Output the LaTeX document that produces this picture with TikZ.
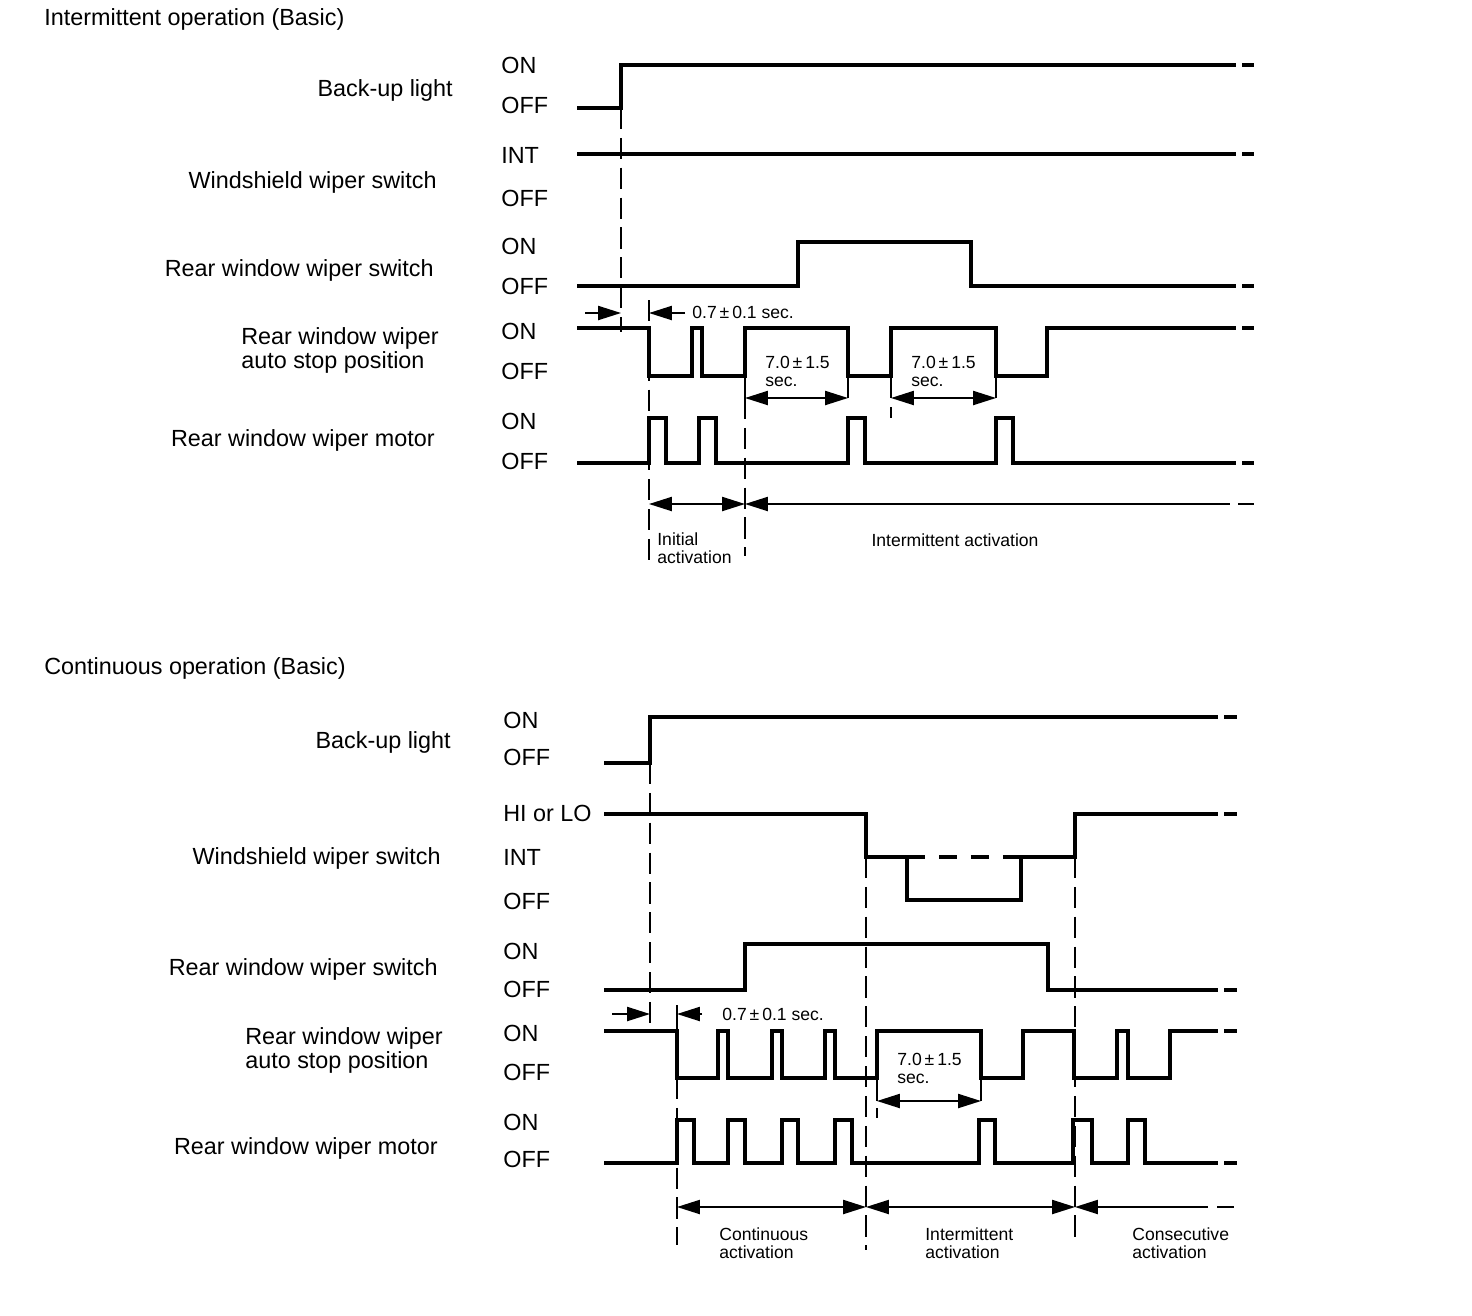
\documentclass[tikz,border=0pt]{standalone}
\usepackage{fontspec}
\setmainfont{Liberation Sans}
\usetikzlibrary{arrows.meta}

\begin{document}
\begin{tikzpicture}[x=0.02cm, y=-0.02cm,
    sig/.style={line width=1.9pt, line join=miter},
    guide/.style={line width=0.9pt, dash pattern=on 12pt off 5pt},
    dim/.style={line width=1pt, >={Triangle[length=13pt,width=8pt]}},
    lbl/.style={font=\fontsize{13.3}{13.6}\selectfont, inner sep=0pt},
    small/.style={font=\fontsize{10}{10.2}\selectfont, inner sep=0pt, align=left}]

\useasboundingbox (0,0) rectangle (1472,1316);

% ---- Intermittent operation ----
\node[lbl, anchor=base west] (intTitle) at (44,25) {Intermittent operation (Basic)};
\node[lbl, anchor=base east] (intBack) at (453,96) {Back-up light};
\node[lbl, anchor=base east] (intWs) at (437,188) {Windshield wiper switch};
\node[lbl, anchor=base east] (intRs) at (434,276) {Rear window wiper switch};
\node[lbl, anchor=north west, align=left] (intStop) at (241,327) {Rear window wiper\\auto stop position};
\node[lbl, anchor=base east] (intMot) at (435,446) {Rear window wiper motor};
\foreach \y/\s in {73/ON,113/OFF,163/INT,206/OFF,254/ON,294/OFF,339/ON,379/OFF,429/ON,469/OFF}
    \node[lbl, anchor=base west] (intState\y) at (501,\y) {\s};

% guide lines
\draw[guide] (621,108) -- (621,332);
\draw[guide] (649,300) -- (649,565);
\draw[guide] (745,398) -- (745,556);
\foreach \x in {745,848,891,996} \draw[dim] (\x,376) -- (\x,398);
\draw[dim] (891,407) -- (891,418);

% waveforms
\draw[sig] (577,108) -- (621,108) -- (621,65) -- (1236,65);
\draw[sig] (577,154) -- (1236,154);
\draw[sig] (577,286) -- (798,286) -- (798,242) -- (971,242) -- (971,286) -- (1236,286);
\draw[sig] (577,328) -- (649,328) -- (649,376) -- (692,376) -- (692,328) -- (702,328) -- (702,376)
    -- (745,376) -- (745,328) -- (848,328) -- (848,376) -- (891,376) -- (891,328) -- (996,328)
    -- (996,376) -- (1047,376) -- (1047,328) -- (1236,328);
\draw[sig] (577,463) -- (649,463) -- (649,418) -- (666,418) -- (666,463) -- (699,463) -- (699,418)
    -- (716,418) -- (716,463) -- (848,463) -- (848,418) -- (865,418) -- (865,463) -- (996,463)
    -- (996,418) -- (1013,418) -- (1013,463) -- (1236,463);
\foreach \y in {65,154,286,328,463} \draw[sig] (1242,\y) -- (1254,\y);

% timings
\draw[dim,->] (585,313) -- (621,313);
\draw[dim,->] (685,313) -- (649,313);
\node[small, anchor=base west] (intTol) at (692,318) {0.7\,±\,0.1 sec.};
\draw[dim,<->] (745,398) -- (848,398);
\node[small, anchor=north west] (intGapA) at (765,356) {7.0\,±\,1.5\\sec.};
\draw[dim,<->] (891,398) -- (996,398);
\node[small, anchor=north west] (intGapB) at (911,356) {7.0\,±\,1.5\\sec.};
\draw[dim,<->] (649,504) -- (745,504);
\draw[dim,<-] (745,504) -- (1230,504);
\draw[dim] (1238,504) -- (1254,504);
\node[small, anchor=north west] (intInit) at (657,532) {Initial\\activation};
\node[small, anchor=base] (intAct) at (955,546) {Intermittent activation};

% ---- Continuous operation ----
\node[lbl, anchor=base west] (conTitle) at (44,674) {Continuous operation (Basic)};
\node[lbl, anchor=base east] (conBack) at (451,748) {Back-up light};
\node[lbl, anchor=base east] (conWs) at (441,864) {Windshield wiper switch};
\node[lbl, anchor=base east] (conRs) at (438,975) {Rear window wiper switch};
\node[lbl, anchor=north west, align=left] (conStop) at (245,1027) {Rear window wiper\\auto stop position};
\node[lbl, anchor=base east] (conMot) at (438,1154) {Rear window wiper motor};
\foreach \y/\s in {728/ON,765/OFF,821/HI or LO,865/INT,909/OFF,959/ON,997/OFF,1041/ON,1080/OFF,1130/ON,1167/OFF}
    \node[lbl, anchor=base west] (conState\y) at (503,\y) {\s};

% guide lines
\draw[guide] (650,763) -- (650,1030);
\draw[guide] (866,857) -- (866,1250);
\draw[guide] (1075,857) -- (1075,1245);
\draw[guide] (677,1078) -- (677,1245);
\draw[dim] (677,1005) -- (677,1031);
\draw[dim] (877,1078) -- (877,1101);
\draw[dim] (877,1108) -- (877,1118);
\draw[dim] (981,1078) -- (981,1101);

% waveforms
\draw[sig] (604,763) -- (650,763) -- (650,717) -- (1218,717);
\draw[sig] (604,814) -- (866,814) -- (866,857) -- (907,857) -- (907,900) -- (1021,900) -- (1021,857)
    -- (1075,857) -- (1075,814) -- (1218,814);
\draw[sig, dash pattern=on 0.36cm off 0.28cm] (907,857) -- (1021,857);
\draw[sig] (604,990) -- (745,990) -- (745,944) -- (1048,944) -- (1048,990) -- (1218,990);
\draw[sig] (604,1031) -- (677,1031) -- (677,1078) -- (718,1078) -- (718,1031) -- (728,1031) -- (728,1078)
    -- (772,1078) -- (772,1031) -- (782,1031) -- (782,1078) -- (825,1078) -- (825,1031) -- (835,1031)
    -- (835,1078) -- (877,1078) -- (877,1031) -- (981,1031) -- (981,1078) -- (1023,1078) -- (1023,1031)
    -- (1074,1031) -- (1074,1078) -- (1117,1078) -- (1117,1031) -- (1128,1031) -- (1128,1078)
    -- (1170,1078) -- (1170,1031) -- (1218,1031);
\draw[sig] (604,1163) -- (677,1163) -- (677,1120) -- (694,1120) -- (694,1163) -- (728,1163) -- (728,1120)
    -- (745,1120) -- (745,1163) -- (782,1163) -- (782,1120) -- (798,1120) -- (798,1163) -- (835,1163)
    -- (835,1120) -- (852,1120) -- (852,1163) -- (979,1163) -- (979,1120) -- (995,1120) -- (995,1163)
    -- (1073,1163) -- (1073,1120) -- (1092,1120) -- (1092,1163) -- (1128,1163) -- (1128,1120)
    -- (1145,1120) -- (1145,1163) -- (1218,1163);
\foreach \y in {717,814,990,1031,1163} \draw[sig] (1224,\y) -- (1237,\y);

% timings
\draw[dim,->] (612,1014) -- (650,1014);
\draw[dim,->] (702,1014) -- (677,1014);
\node[small, anchor=base west] (conTol) at (722,1020) {0.7\,±\,0.1 sec.};
\draw[dim,<->] (877,1101) -- (981,1101);
\node[small, anchor=north west] (conGap) at (897,1053) {7.0\,±\,1.5\\sec.};
\draw[dim,<->] (677,1207) -- (866,1207);
\draw[dim,<->] (866,1207) -- (1075,1207);
\draw[dim,<-] (1075,1207) -- (1208,1207);
\draw[dim] (1217,1207) -- (1234,1207);
\node[small, anchor=north west] (conCont) at (719,1227) {Continuous\\activation};
\node[small, anchor=north west] (conInt) at (925,1227) {Intermittent\\activation};
\node[small, anchor=north west] (conCons) at (1132,1227) {Consecutive\\activation};
\end{tikzpicture}
\end{document}
